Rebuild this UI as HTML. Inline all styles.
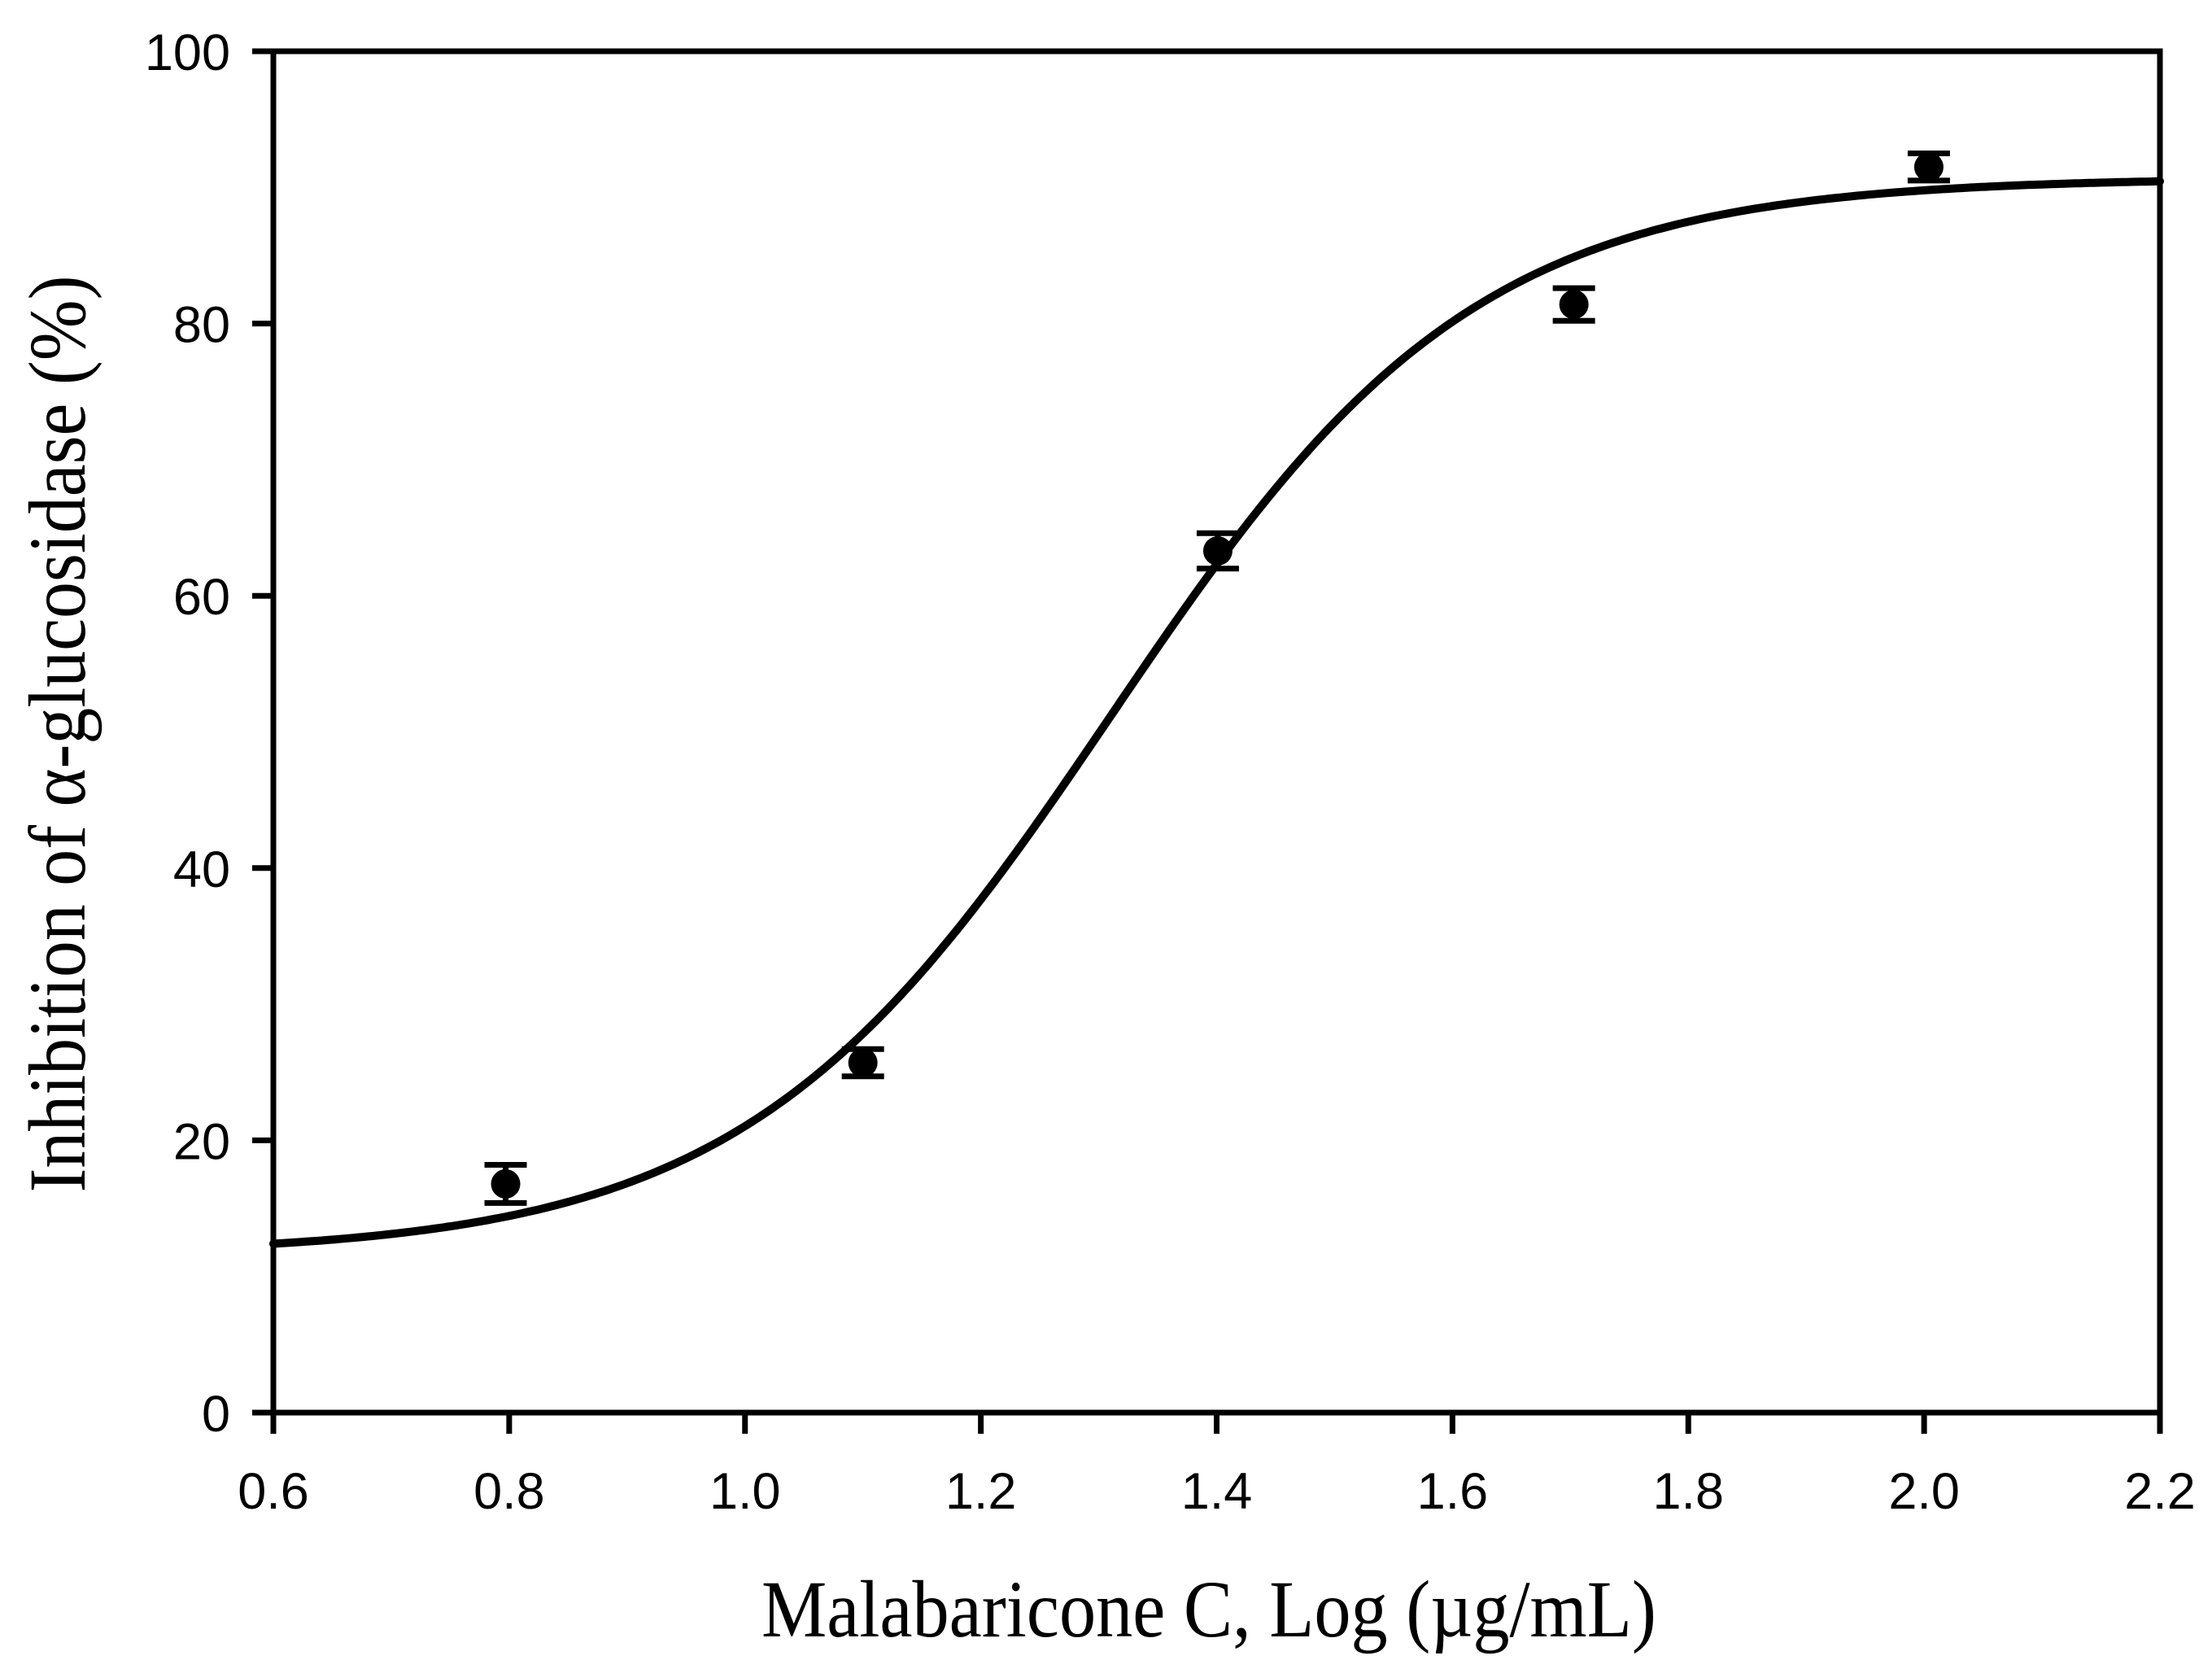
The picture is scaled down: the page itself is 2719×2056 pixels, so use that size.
<!DOCTYPE html>
<html><head><meta charset="utf-8"><style>
html,body{margin:0;padding:0;background:#fff;}
svg{display:block;}
</style></head><body>
<svg id="chart" width="2719" height="2056" viewBox="0 0 2719 2056" xmlns="http://www.w3.org/2000/svg">
<rect width="2719" height="2056" fill="#fff"/>
<g id="plot"></g>
<text x="1486" y="2011" text-anchor="middle" textLength="1100" lengthAdjust="spacingAndGlyphs" font-family="'Liberation Serif', serif" font-size="100" fill="#000">Malabaricone C, Log (µg/mL)</text>
<text transform="translate(104,902) rotate(-90)" text-anchor="middle" textLength="1127" lengthAdjust="spacingAndGlyphs" font-family="'Liberation Serif', serif" font-size="100" fill="#000">Inhibition of α-glucosidase (%)</text>
</svg>
<script>
const xTicks=[0.6,0.8,1.0,1.2,1.4,1.6,1.8,2.0,2.2];
const xTickLabels=["0.6","0.8","1.0","1.2","1.4","1.6","1.8","2.0","2.2"];
const yTicks=[0,20,40,60,80,100];
const yTickLabels=["0","20","40","60","80","100"];
const doseX=[0.797,1.1,1.401,1.703,2.004];
const inhibitionY=[16.8,25.7,63.3,81.4,91.5];
const errorY=[1.4,1.0,1.3,1.2,1.0];
const fitBottom=[11.6];
const fitTop=[90.7];
const fitLogEC50=[1.31];
const fitHill=[2.8];

const L=336,R=2655,T=63,B=1736;
const xs=v=>L+(v-0.6)/(2.2-0.6)*(R-L);
const ys=v=>B-(v/100)*(B-T);
const NS="http://www.w3.org/2000/svg";
const g=document.getElementById('plot');
function mk(tag,attrs){const e=document.createElementNS(NS,tag);for(const k in attrs)e.setAttribute(k,attrs[k]);g.appendChild(e);return e;}

let d="";
for(let i=0;i<=400;i++){const x=0.6+i*(1.6/400);const y=fitBottom[0]+(fitTop[0]-fitBottom[0])/(1+Math.pow(10,(fitLogEC50[0]-x)*fitHill[0]));d+=(i?"L":"M")+xs(x).toFixed(1)+","+ys(y).toFixed(1);}
const curve=mk('path',{d:d,fill:'none',stroke:'#000','stroke-width':10,'stroke-linecap':'round'});



const ax=mk('rect',{x:L,y:T,width:R-L,height:B-T,fill:'none',stroke:'#000','stroke-width':7});



xTicks.forEach((v,i)=>{
  const t=mk('line',{x1:xs(v),x2:xs(v),y1:B,y2:B+26,stroke:'#000','stroke-width':7});
  
  
  const lb=mk('text',{x:xs(v),y:1854,'text-anchor':'middle','font-family':"'Liberation Sans', sans-serif",'font-size':63,fill:'#000'});
  lb.textContent=xTickLabels[i];
  
  
});
yTicks.forEach((v,i)=>{
  const t=mk('line',{x1:L-26,x2:L,y1:ys(v),y2:ys(v),stroke:'#000','stroke-width':7});
  
  
  const lb=mk('text',{x:283,y:ys(v)+23,'text-anchor':'end','font-family':"'Liberation Sans', sans-serif",'font-size':63,fill:'#000'});
  lb.textContent=yTickLabels[i];
  
  
});

doseX.forEach((v,i)=>{
  const cx=xs(v),y0=ys(inhibitionY[i]-errorY[i]),y1=ys(inhibitionY[i]+errorY[i]);
  const eb=mk('path',{d:`M${cx},${y0}L${cx},${y1}M${cx-26},${y0}L${cx+26},${y0}M${cx-26},${y1}L${cx+26},${y1}`,stroke:'#000','stroke-width':7,fill:'none'});
  
  
  const c=mk('circle',{cx:cx,cy:ys(inhibitionY[i]),r:18,fill:'#000'});
  
  
});
</script>
</body></html>
